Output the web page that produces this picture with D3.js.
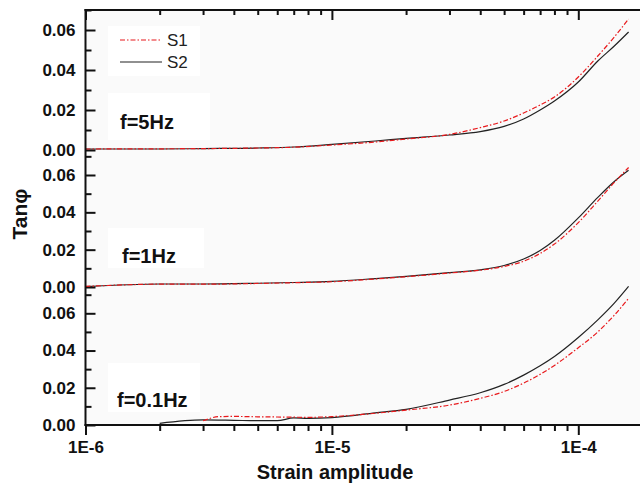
<!DOCTYPE html>
<html>
<head>
<meta charset="utf-8">
<script src="https://cdn.jsdelivr.net/npm/d3@7"></script>
<style>
  body { margin: 0; background: #fff; }
  svg { display: block; font-family: "Liberation Sans", Arial, sans-serif; }
</style>
</head>
<body>
<script>
// strain amplitude sample points (shared by the 5Hz and 1Hz panels)
const strain = [1e-6, 2e-6, 3e-6, 5e-6, 7e-6, 1e-5, 1.5e-5, 2e-5, 3e-5, 4e-5, 5e-5, 6e-5, 7e-5, 8e-5, 1e-4, 1.2e-4, 1.4e-4, 1.6e-4]

const s1_5Hz = [0.0005, 0.0006, 0.0007, 0.001, 0.0014, 0.0025, 0.004, 0.0055, 0.0078, 0.0112, 0.0145, 0.0185, 0.0225, 0.0265, 0.0365, 0.047, 0.0565, 0.0655]
const s2_5Hz = [0.0005, 0.0005, 0.0007, 0.001, 0.0015, 0.0028, 0.0045, 0.0058, 0.0075, 0.0092, 0.0118, 0.0155, 0.02, 0.0245, 0.034, 0.0445, 0.052, 0.059]

const s1_1Hz = [0.0003, 0.0015, 0.0015, 0.0019, 0.0023, 0.0028, 0.0043, 0.0055, 0.0075, 0.009, 0.011, 0.0138, 0.018, 0.023, 0.0345, 0.046, 0.056, 0.064]
const s2_1Hz = [0.0002, 0.0016, 0.0016, 0.002, 0.0024, 0.003, 0.0045, 0.0057, 0.0077, 0.0092, 0.0115, 0.015, 0.0195, 0.025, 0.037, 0.048, 0.0565, 0.0625]

// 0.1Hz panel starts later and has its own points
const strainS1_01 = [3e-6, 3.5e-6, 4e-6, 5e-6, 6e-6, 7e-6, 8e-6, 1e-5, 1.5e-5, 2e-5, 3e-5, 4e-5, 5e-5, 6e-5, 7e-5, 8e-5, 1e-4, 1.2e-4, 1.4e-4, 1.6e-4]
const s1_01Hz = [0.0023, 0.0045, 0.0046, 0.0044, 0.0043, 0.0042, 0.0041, 0.0045, 0.0063, 0.008, 0.0107, 0.0143, 0.018, 0.0225, 0.0272, 0.032, 0.0415, 0.05, 0.059, 0.068]
const strainS2_01 = [2e-6, 3e-6, 4e-6, 5e-6, 6e-6, 7e-6, 8e-6, 1e-5, 1.5e-5, 2e-5, 3e-5, 4e-5, 5e-5, 6e-5, 7e-5, 8e-5, 1e-4, 1.2e-4, 1.4e-4, 1.6e-4]
const s2_01Hz = [0.0009, 0.0027, 0.0025, 0.0023, 0.0023, 0.0038, 0.0036, 0.004, 0.0065, 0.0084, 0.0134, 0.0173, 0.0218, 0.0268, 0.0318, 0.0368, 0.047, 0.0565, 0.0655, 0.0745]

const panelLabels = ['f=5Hz', 'f=1Hz', 'f=0.1Hz']
const seriesNames = ['S1', 'S2']
const yMajor = [0, 0.02, 0.04, 0.06]
const yMinor = [0.01, 0.03, 0.05, 0.07]
const xMajor = [1e-6, 1e-5, 1e-4]

var config = {
  width: 640,
  height: 487,
  left: 85.5,
  top: 10,
  bottom: 425,
  red: '#e8191c',
  black: '#222',
  font: 17,
}

const zip = (xs, ys) => xs.map((x, i) => ({x: x, y: ys[i]}))

const panels = [
  {label: panelLabels[0], yRange: [150, 10], yDomain: [0, 0.07], labelPos: [120, 129], box: [108, 93, 102, 47],
   s1: zip(strain, s1_5Hz), s2: zip(strain, s2_5Hz)},
  {label: panelLabels[1], yRange: [287, 175], yDomain: [0, 0.06], labelPos: [122, 263], box: [108, 228, 96, 40],
   s1: zip(strain, s1_1Hz), s2: zip(strain, s2_1Hz)},
  {label: panelLabels[2], yRange: [425, 313.3], yDomain: [0, 0.06], labelPos: [117, 407], box: [108, 363, 92, 49],
   s1: zip(strainS1_01, s1_01Hz), s2: zip(strainS2_01, s2_01Hz)},
]

var svg = d3.select('body').append('svg')
  .attr('width', config.width)
  .attr('height', config.height)

var x = d3.scaleLog().domain([1e-6, 1e-4]).range([config.left, 578.3])

const xMinor = []
;[1e-6, 1e-5, 1e-4].forEach(d => { for (let k = 2; k <= 9; k++) xMinor.push(d * k) })

// plot background
svg.append('rect')
  .attr('x', config.left).attr('y', config.top)
  .attr('width', config.width - config.left).attr('height', config.bottom - config.top)
  .attr('fill', '#fafafa')

// white boxes behind labels
panels.forEach(p => {
  svg.append('rect')
    .attr('x', p.box[0]).attr('y', p.box[1]).attr('width', p.box[2]).attr('height', p.box[3])
    .attr('fill', '#fff')
})
svg.append('rect').attr('x', 108).attr('y', 26).attr('width', 92).attr('height', 50).attr('fill', '#fff')

const styleAxis = (g, noText) => {
  g.select('.domain').remove()
  g.selectAll('line').attr('stroke', '#111').attr('stroke-width', 2)
  if (noText) g.selectAll('text').remove()
  g.selectAll('text')
    .attr('fill', '#111')
    .style('font-size', config.font + 'px')
    .style('font-weight', 'bold')
}

// x axes, bottom (outward) and top (inward)
svg.append('g').attr('transform', `translate(0,${config.bottom})`)
  .call(d3.axisBottom(x).tickValues(xMajor).tickSize(10).tickPadding(6)
    .tickFormat(d => '1E' + Math.round(Math.log10(d))))
  .call(g => styleAxis(g))
svg.append('g').attr('transform', `translate(0,${config.bottom})`)
  .call(d3.axisBottom(x).tickValues(xMinor).tickSize(6).tickFormat(''))
  .call(g => styleAxis(g, true))
svg.append('g').attr('transform', `translate(0,${config.top})`)
  .call(d3.axisTop(x).tickValues(xMajor).tickSize(-10).tickFormat(''))
  .call(g => styleAxis(g, true))
svg.append('g').attr('transform', `translate(0,${config.top})`)
  .call(d3.axisTop(x).tickValues(xMinor).tickSize(-5).tickFormat(''))
  .call(g => styleAxis(g, true))

panels.forEach(p => {
  let y = d3.scaleLinear().domain(p.yDomain).range(p.yRange)

  svg.append('g').attr('transform', `translate(${config.left},0)`)
    .call(d3.axisLeft(y).tickValues(yMajor).tickSizeInner(-10).tickSizeOuter(0).tickPadding(10)
      .tickFormat(d3.format('.2f')))
    .call(g => styleAxis(g))
  svg.append('g').attr('transform', `translate(${config.left},0)`)
    .call(d3.axisLeft(y).tickValues(yMinor).tickSizeInner(-6).tickSizeOuter(0).tickFormat(''))
    .call(g => styleAxis(g, true))

  let line = d3.line().x(d => x(d.x)).y(d => y(d.y)).curve(d3.curveMonotoneX)

  svg.append('path').datum(p.s2)
    .attr('d', line)
    .attr('fill', 'none')
    .attr('stroke', config.black)
    .attr('stroke-width', 1.2)
  svg.append('path').datum(p.s1)
    .attr('d', line)
    .attr('fill', 'none')
    .attr('stroke', config.red)
    .attr('stroke-width', 1.2)
    .attr('stroke-dasharray', '5,2,1.5,2')

  svg.append('text')
    .attr('x', p.labelPos[0]).attr('y', p.labelPos[1])
    .style('font-size', '20px').style('font-weight', 'bold')
    .attr('fill', '#111')
    .text(p.label)
})

// axis frame lines
svg.append('line').attr('x1', config.left).attr('x2', config.left).attr('y1', config.top - 1).attr('y2', config.bottom + 1)
  .attr('stroke', '#111').attr('stroke-width', 2)
svg.append('line').attr('x1', config.left - 1).attr('x2', config.width).attr('y1', config.bottom).attr('y2', config.bottom)
  .attr('stroke', '#111').attr('stroke-width', 2)
svg.append('line').attr('x1', config.left - 1).attr('x2', config.width).attr('y1', config.top).attr('y2', config.top)
  .attr('stroke', '#111').attr('stroke-width', 2)

// legend
const legend = svg.append('g')
seriesNames.forEach((name, i) => {
  let ly = 40 + i * 22
  legend.append('line')
    .attr('x1', 120).attr('x2', 162).attr('y1', ly).attr('y2', ly)
    .attr('stroke', i === 0 ? config.red : config.black)
    .attr('stroke-width', 1.2)
    .attr('stroke-dasharray', i === 0 ? '5,2,1.5,2' : null)
  legend.append('text')
    .attr('x', 167).attr('y', ly + 6)
    .style('font-size', '17px')
    .attr('fill', '#222')
    .text(name)
})

// axis titles
svg.append('text')
  .attr('transform', 'translate(27,214) rotate(-90)')
  .attr('text-anchor', 'middle')
  .style('font-size', '21px').style('font-weight', 'bold')
  .attr('fill', '#111')
  .text('Tanφ')

svg.append('text')
  .attr('x', 335).attr('y', 479)
  .attr('text-anchor', 'middle')
  .style('font-size', '20px').style('font-weight', 'bold')
  .attr('fill', '#111')
  .text('Strain amplitude')
</script>
</body>
</html>
